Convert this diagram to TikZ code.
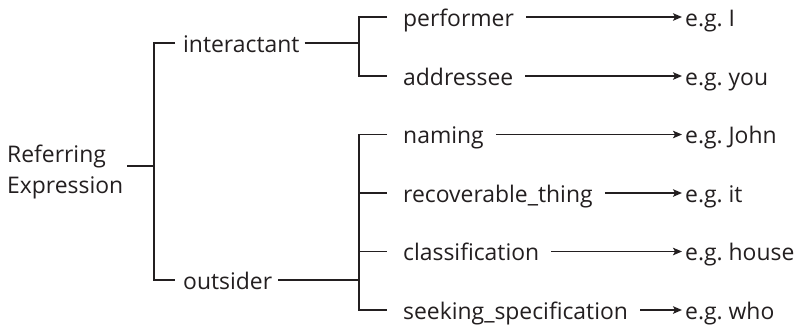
\documentclass[tikz,border=0pt]{standalone}
\usepackage{fontspec}
\setmainfont{Open Sans}[WordSpace=0.65]
\usetikzlibrary{arrows.meta}
\definecolor{ink}{RGB}{35,31,32}
\begin{document}
\begin{tikzpicture}[x=1pt,y=-1pt,
  lbl/.style={anchor=base west, inner sep=0pt, text=ink, font=\fontsize{22.9}{31}\selectfont},
  ln/.style={line width=1.4pt, draw=ink},
  arr/.style={ln, -{Stealth[length=9pt,width=7.5pt,inset=2pt]}}]
\useasboundingbox[fill=white] (0,0) rectangle (799,327);
% root
\node[lbl, align=left] (root) at (7,193) {Referring\\Expression};
\coordinate (j0) at (154,166);
\coordinate (rI) at (154,43);
\coordinate (rO) at (154,280);
\node[lbl] (ia) at (183,52) {interactant};
\node[lbl] (os) at (183,289) {outsider};
\draw[ln] ([xshift=4pt]root.east |- j0) -- (j0);
\draw[ln] ([xshift=-8pt]ia.west |- rI) -- (rI) -- (rO) -- ([xshift=-8pt]os.west |- rO);
% brackets of second level
\coordinate (jI) at (359,43);
\coordinate (jO) at (359,280);
\coordinate (r1) at (359,17);
\coordinate (r2) at (359,76);
\coordinate (r3) at (359,134.5);
\coordinate (r4) at (359,193);
\coordinate (r5) at (359,251.5);
\coordinate (r6) at (359,310);
\draw[ln] ([xshift=5pt]ia.east |- jI) -- (jI);
\draw[ln] ([xshift=6pt]os.east |- jO) -- (jO);
% leaves
\node[lbl] (l1) at (403,26) {performer};
\node[lbl] (l2) at (403,85) {addressee};
\node[lbl] (l3) at (403,143.5) {naming};
\node[lbl] (l4) at (403,202) {recoverable\_thing};
\node[lbl] (l5) at (403,260.5) {classification};
\node[lbl] (l6) at (403,319) {seeking\_specification};
\node[lbl] (e1) at (685,26) {e.g. I};
\node[lbl] (e2) at (685,85) {e.g. you};
\node[lbl] (e3) at (685,143.5) {e.g. John};
\node[lbl] (e4) at (685,202) {e.g. it};
\node[lbl] (e5) at (685,260.5) {e.g. house};
\node[lbl] (e6) at (685,319) {e.g. who};
\draw[ln] ([xshift=-16pt]l1.west |- r1) -- (r1) -- (r2) -- ([xshift=-16pt]l2.west |- r2);
\draw[ln] ([xshift=-16pt]l3.west |- r3) -- (r3) -- (r6) -- ([xshift=-16pt]l6.west |- r6);
\draw[ln] (r4) -- ([xshift=-16pt]l4.west |- r4);
\draw[ln] (r5) -- ([xshift=-16pt]l5.west |- r5);
% arrows
\foreach \i in {1,...,6}{
  \draw[arr] ([xshift=12pt]l\i.east |- r\i) -- ([xshift=-3pt]e\i.west |- r\i);
}
\end{tikzpicture}
\end{document}
